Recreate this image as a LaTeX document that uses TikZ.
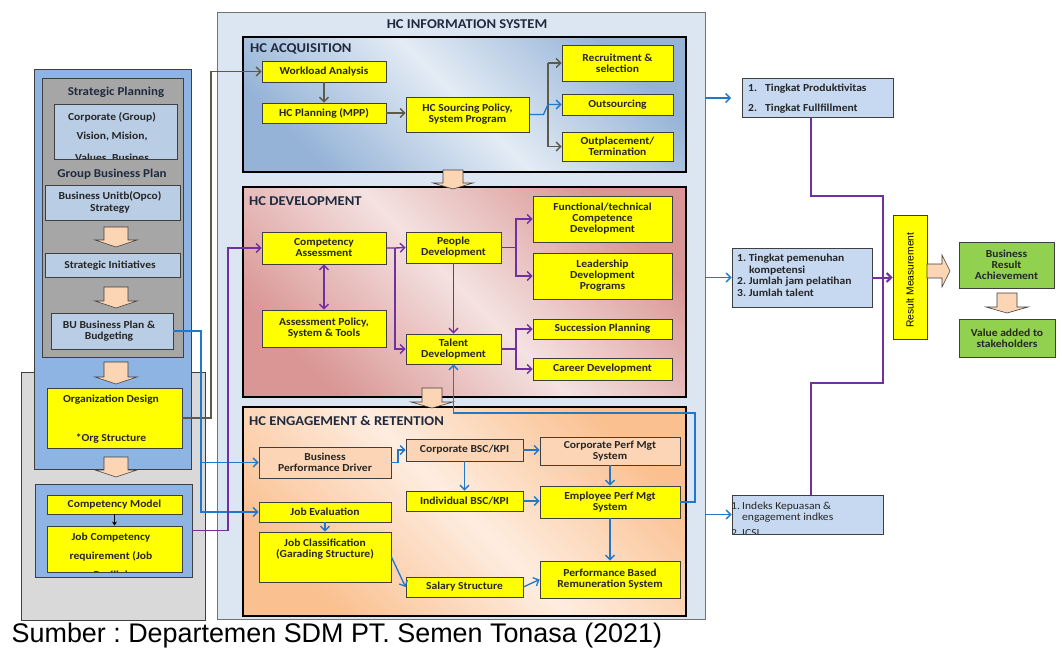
\documentclass[tikz,border=0pt]{standalone}
\usepackage{fontspec}
\setmainfont{Carlito}[FakeStretch=1.08]
\newfontfamily\capfont{Liberation Sans}
\usetikzlibrary{arrows.meta}
\frenchspacing
\definecolor{yel}{HTML}{FFFF00}
\definecolor{bdr}{HTML}{3F3F3F}
\definecolor{txt}{HTML}{262626}
\definecolor{ttl}{HTML}{1F2A3F}
\definecolor{lblue}{HTML}{B9CDE5}
\definecolor{rbox}{HTML}{C6D9F1}
\definecolor{midblue}{HTML}{8EB4E3}
\definecolor{dgray}{HTML}{A6A6A6}
\definecolor{lgray}{HTML}{D9D9D9}
\definecolor{mainbg}{HTML}{DCE6F2}
\definecolor{acqD}{HTML}{95B3D7}
\definecolor{acqL}{HTML}{E4ECF5}
\definecolor{devD}{HTML}{D99694}
\definecolor{devL}{HTML}{F4E2E1}
\definecolor{engD}{HTML}{FAC090}
\definecolor{engL}{HTML}{FEEDE0}
\definecolor{peach}{HTML}{FBD5B5}
\definecolor{arrpeach}{HTML}{FCD5B4}
\definecolor{grn}{HTML}{92D050}
\definecolor{bl}{HTML}{1F78C8}
\definecolor{pur}{HTML}{7030A0}
\definecolor{olv}{HTML}{5E5A4A}
\pgfdeclarehorizontalshading{acqsh}{100bp}{color(0bp)=(acqD); color(25bp)=(acqD); color(50bp)=(acqL); color(75bp)=(acqD); color(100bp)=(acqD)}
\pgfdeclarehorizontalshading{devsh}{100bp}{color(0bp)=(devD); color(25bp)=(devD); color(50bp)=(devL); color(75bp)=(devD); color(100bp)=(devD)}
\pgfdeclarehorizontalshading{engsh}{100bp}{color(0bp)=(engD); color(25bp)=(engD); color(50bp)=(engL); color(75bp)=(engD); color(100bp)=(engD)}
\newcommand\nf{\fontsize{10.7}{11}\selectfont\bfseries}
\newcommand\nfr{\fontsize{10.7}{11}\selectfont}
\newcommand\hdf{\fontsize{12}{14}\selectfont\bfseries}
\newcommand\ttf{\fontsize{13.5}{15}\selectfont\bfseries}
\newcommand\bx[7]{%
 \pgfmathsetmacro\bxw{#5-#3}\pgfmathsetmacro\bxh{#6-#4}%
 \pgfmathsetmacro\bxx{(#3+#5)/2}\pgfmathsetmacro\bxy{(#4+#6)/2}%
 \node[#1,minimum width=\bxw pt,minimum height=\bxh pt] (#2) at (\bxx,\bxy) {#7};}
\newcommand\darr[6]{%
 \draw[blockarrow] ({#1-#4},#2) -- ({#1+#4},#2) -- ({#1+#4},{#3-#6}) -- ({#1+#5},{#3-#6}) -- (#1,#3) -- ({#1-#5},{#3-#6}) -- ({#1-#4},{#3-#6}) -- cycle;}
\tikzset{
 cont/.style={draw=bdr, line width=0.8pt, inner sep=0pt},
 box/.style={draw=bdr, line width=0.9pt, inner sep=0pt, align=center, text=txt, font=\nf},
 ybox/.style={box, fill=yel},
 pbox/.style={box, fill=peach},
 lbox/.style={box, fill=lblue},
 rbx/.style={box, fill=rbox},
 gbox/.style={box, fill=grn},
 sec/.style={draw=black, line width=2pt, inner sep=0pt},
 lt/.style={font=\nf, text=txt, anchor=base, inner sep=0pt},
 rt/.style={font=\nf, text=txt, anchor=base west, inner sep=0pt},
 hd/.style={font=\hdf, text=ttl, anchor=base, inner sep=0pt},
 ttl/.style={font=\ttf, text=ttl, anchor=base west, inner sep=0pt},
 bar/.style={->, draw=bl, line width=1.3pt},
 par/.style={->, draw=pur, line width=1.4pt},
 gar/.style={->, draw=olv, line width=1.3pt},
 pthick/.style={draw=pur, line width=2pt},
 blockarrow/.style={fill=arrpeach, draw=bdr, line width=0.6pt, line join=miter},
}
\begin{document}
\begin{tikzpicture}[x=1pt,y=-1pt,>={Straight Barb[length=4.5pt,width=9pt]}]
\useasboundingbox (0,0) rectangle (1062,648);
\fill[white] (0,0) rectangle (1062,648);
% ---------------- left column
\bx{cont,fill=lgray}{lgbg}{21}{372}{205}{620}{}
\bx{cont,fill=midblue}{lbo}{34}{69}{191}{469}{}
\bx{cont,fill=dgray}{lin}{42}{78}{183}{357}{}
\node[hd] (sph) at (116,95) {Strategic Planning};
\bx{lbox}{corp}{54}{104}{177}{159}{}
\begin{scope}
\clip (54,104) rectangle (177,158.5);
\node[lt] (corp1) at (112,120) {Corporate (Group)};
\node[lt] (corp2) at (112,139) {Vision, Mision,};
\node[lt] (corp3) at (112,161) {Values, Busines};
\end{scope}
\node[hd] (gbp) at (112,177) {Group Business Plan};
\bx{lbox}{buo}{45}{185}{180}{220}{}
\node[lt] (buo1) at (110,199) {Business Unitb(Opco)};
\node[lt] (buo2) at (110,211) {Strategy};
\bx{lbox}{si}{45}{253}{180}{277}{}
\node[lt] (si1) at (110,268) {Strategic Initiatives};
\bx{lbox}{bu}{51}{313}{173}{349}{}
\node[lt] (bu1) at (109,328) {BU Business Plan \&};
\node[lt] (bu2) at (109,339) {Budgeting};
\bx{ybox}{org}{47}{388}{182}{448}{}
\node[lt] (org1) at (111,402) {Organization Design};
\node[lt] (org2) at (111,441) {*Org Structure};
\bx{cont,fill=midblue}{blue2}{35}{484}{192}{577}{}
\bx{ybox}{cm}{47}{495}{182}{514}{Competency Model}
\bx{ybox}{jc}{47}{526}{182}{572}{}
\begin{scope}
\clip (47,526) rectangle (182,571.5);
\node[lt] (jc1) at (111,540) {Job Competency};
\node[lt] (jc2) at (111,559) {requirement (Job};
\node[lt] (jc3) at (111,578) {Profile)};
\end{scope}
\draw[->, draw=black, line width=0.8pt, >={Stealth[length=4pt,width=5pt]}] (cm.south) -- (jc.north);
\darr{116}{227}{247}{12}{21}{7}
\darr{116}{287}{308}{12}{21}{7}
\darr{116}{362}{384}{12}{21}{7}
\darr{116}{457}{477}{12}{21}{7}
% ---------------- main box
\bx{draw=black!55,line width=1pt,fill=mainbg,inner sep=0pt}{main}{217}{12}{705}{619}{}
\node[font=\ttf, text=ttl, anchor=base, inner sep=0pt] (mainttl) at (467,28) {HC INFORMATION SYSTEM};
% acquisition
\bx{sec,shade,shading=acqsh,shading angle=45}{acq}{243}{37}{686}{172}{}
\node[ttl] (acqt) at (250,52) {HC ACQUISITION};
\bx{ybox}{wa}{262}{61}{386}{82}{Workload Analysis}
\bx{ybox}{hcp}{262}{103}{386}{123}{HC Planning (MPP)}
\bx{ybox}{src}{406}{97}{529}{132}{HC Sourcing Policy,\\System Program}
\bx{ybox}{rec}{562}{45}{673}{81}{Recruitment \&\\selection}
\bx{ybox}{out}{562}{94}{673}{115}{Outsourcing}
\bx{ybox}{opl}{562}{132}{673}{161}{Outplacement/\\Termination}
% development
\bx{sec,shade,shading=devsh,shading angle=45}{dev}{243}{187}{686}{397}{}
\node[ttl] (devt) at (249,205) {HC DEVELOPMENT};
\bx{ybox}{ca}{262}{232}{386}{264}{Competency\\Assessment}
\bx{ybox}{ap}{262}{310}{386}{347}{Assessment Policy,\\System \& Tools}
\bx{ybox}{pd}{406}{232}{501}{263}{People\\Development}
\bx{ybox}{td}{406}{334}{501}{364}{Talent\\Development}
\bx{ybox}{ft}{533}{196}{672}{242}{Functional/technical\\Competence\\Development}
\bx{ybox}{ld}{533}{253}{672}{299}{Leadership\\Development\\Programs}
\bx{ybox}{sp}{533}{319}{672}{339}{Succession Planning}
\bx{ybox}{cd}{533}{358}{672}{380}{Career Development}
% engagement
\bx{sec,shade,shading=engsh,shading angle=45}{eng}{243}{407}{686}{616}{}
\node[ttl] (engt) at (249,425) {HC ENGAGEMENT \& RETENTION};
\bx{pbox}{bpd}{259}{447}{391}{478}{Business\\Performance Driver}
\bx{pbox}{cbsc}{406}{439}{523}{461}{Corporate BSC/KPI}
\bx{pbox}{cpm}{540}{437}{680}{465}{Corporate Perf Mgt\\System}
\bx{ybox}{ibsc}{406}{491}{523}{511}{Individual BSC/KPI}
\bx{ybox}{epm}{540}{486}{680}{518}{Employee Perf Mgt\\System}
\bx{ybox}{je}{259}{502}{391}{522}{Job Evaluation}
\bx{ybox}{jcl}{259}{532}{391}{582}{}
\node[lt, align=center, anchor=center] (jclt) at (325,549) {Job Classification\\(Garading Structure)};
\bx{ybox}{ss}{406}{577}{523}{597}{Salary Structure}
\bx{ybox}{pbr}{540}{561}{680}{598}{Performance Based\\Remuneration System}
% block arrows in main
\darr{453}{170}{189}{10}{20}{6}
\darr{432}{388}{408}{10}{21}{6}
% ---------------- connectors
% acquisition
\draw[gar] (wa) -- (hcp);
\draw[gar] (hcp.east) -- (hcp.east -| src.west);
\coordinate (gb) at (548,0);
\draw[olv, line width=1.3pt] (gb |- rec.west) -- (gb |- opl.west);
\draw[gar] (gb |- rec.west) -- (rec.west);
\draw[gar] (gb |- opl.west) -- (opl.west);
\draw[bar] (src.east) -- ++(14,0) -- (gb |- out.west) -- (out.west);
\draw[gar] (org.east) -- (211,418) -- (211,71.5) -- (wa.west);
% from left column
\draw[bar] (bu.east) -- (201,331) -- (201,462.5) -- (bpd.west);
\draw[bar] (201,462.5) -- (201,512) -- (je.west);
\draw[par] (blue2.east) -- (228,530.5) -- (228,248) -- (ca.west);
% development
\draw[par,<->] (ca.south) -- (ap.north);
\draw[par] (ca.east) -- (395,248) -- (pd.west);
\draw[par] (395,248) -- (395,349) -- (td.west);
\draw[par] (pd.south) -- (td.north);
\draw[par] (pd.east) -- (516,247.5) -- (516,219) -- (ft.west);
\draw[par] (516,247.5) -- (516,276) -- (ld.west);
\draw[par] (td.east) -- (516,349) -- (516,329) -- (sp.west);
\draw[par] (516,349) -- (516,369) -- (cd.west);
% engagement
\draw[bar] (bpd.east) -- (398,462.5) -- (398,450) -- (cbsc.west);
\draw[bar] (cbsc.east) -- (cbsc.east -| cpm.west);
\draw[bar] (cbsc.south) -- (ibsc.north);
\draw[bar] (ibsc.east) -- (ibsc.east -| epm.west);
\draw[bar] (cpm.south) -- (epm.north);
\draw[bar] (epm.south) -- (pbr.north);
\draw[bar] (je.south) -- (jcl.north);
\draw[bar] (jcl.east) -- (ss.west);
\draw[bar] (ss.east) -- (pbr.west);
\draw[bar] (epm.east) -- (695,502) -- (695,413) -- (453.5,413) -- (td.south);
% ---------------- right side
\bx{rbx}{r1}{742}{78}{893}{117}{}
\node[rt] (r1a) at (748,91.5) {1.};
\node[rt] (r1b) at (765,91.5) {Tingkat Produktivitas};
\node[rt] (r1c) at (748,111.5) {2.};
\node[rt] (r1d) at (765,111.5) {Tingkat Fullfillment};
\bx{rbx}{r2}{732}{248}{872}{307}{}
\node[rt] (r2a) at (737,261.5) {1. Tingkat pemenuhan};
\node[rt] (r2b) at (749,273) {kompetensi};
\node[rt] (r2c) at (737,284.5) {2. Jumlah jam pelatihan};
\node[rt] (r2d) at (737,296) {3. Jumlah talent};
\bx{rbx}{r3}{732}{495}{883}{534}{}
\begin{scope}
\clip (732.5,495) rectangle (883,533.5);
\node[rt,font=\nfr] (r3a) at (731,509) {1.};
\node[rt,font=\nfr] (r3b) at (742,509) {Indeks Kepuasan \&};
\node[rt,font=\nfr] (r3c) at (742,520.5) {engagement indkes};
\node[rt,font=\nfr] (r3d) at (731,536) {2.};
\node[rt,font=\nfr] (r3e) at (742,536) {ICSI};
\end{scope}
\coordinate (mr1) at (705,98);
\coordinate (r1in) at (731,98);
\draw[bar] (mr1) -- (r1in);
\draw[bar] (705,277.5) -- (r2.west);
\draw[bar] (705,514.5) -- (r3.west);
\bx{box,fill=yel}{rm}{893}{215}{927}{339}{}
\node[rotate=90, font=\capfont\fontsize{10.3}{12}\selectfont, inner sep=0pt] (rmt) at (910,280) {Result Measurement};
\draw[pthick] (811,117) -- (811,196) -- (883,196) -- (883,383) -- (811,383) -- (811,495);
\draw[par, line width=2pt] (r2.east) -- (r2.east -| rm.west);
\draw[blockarrow] (927,264) -- (942,264) -- (942,255) -- (950,271) -- (942,287) -- (942,278) -- (927,278) -- cycle;
\bx{gbox}{bra}{959}{242}{1054}{288}{Business\\Result\\Achievement}
\bx{gbox}{va}{959}{319}{1055}{357}{Value added to\\stakeholders}
\darr{1007}{293}{313}{10}{21}{6}
% caption
\node[anchor=base west, font=\capfont\fontsize{26.9}{30}\selectfont, inner sep=0pt] (cap) at (11.5,642) {Sumber : Departemen SDM PT. Semen Tonasa (2021)};
\end{tikzpicture}
\end{document}
